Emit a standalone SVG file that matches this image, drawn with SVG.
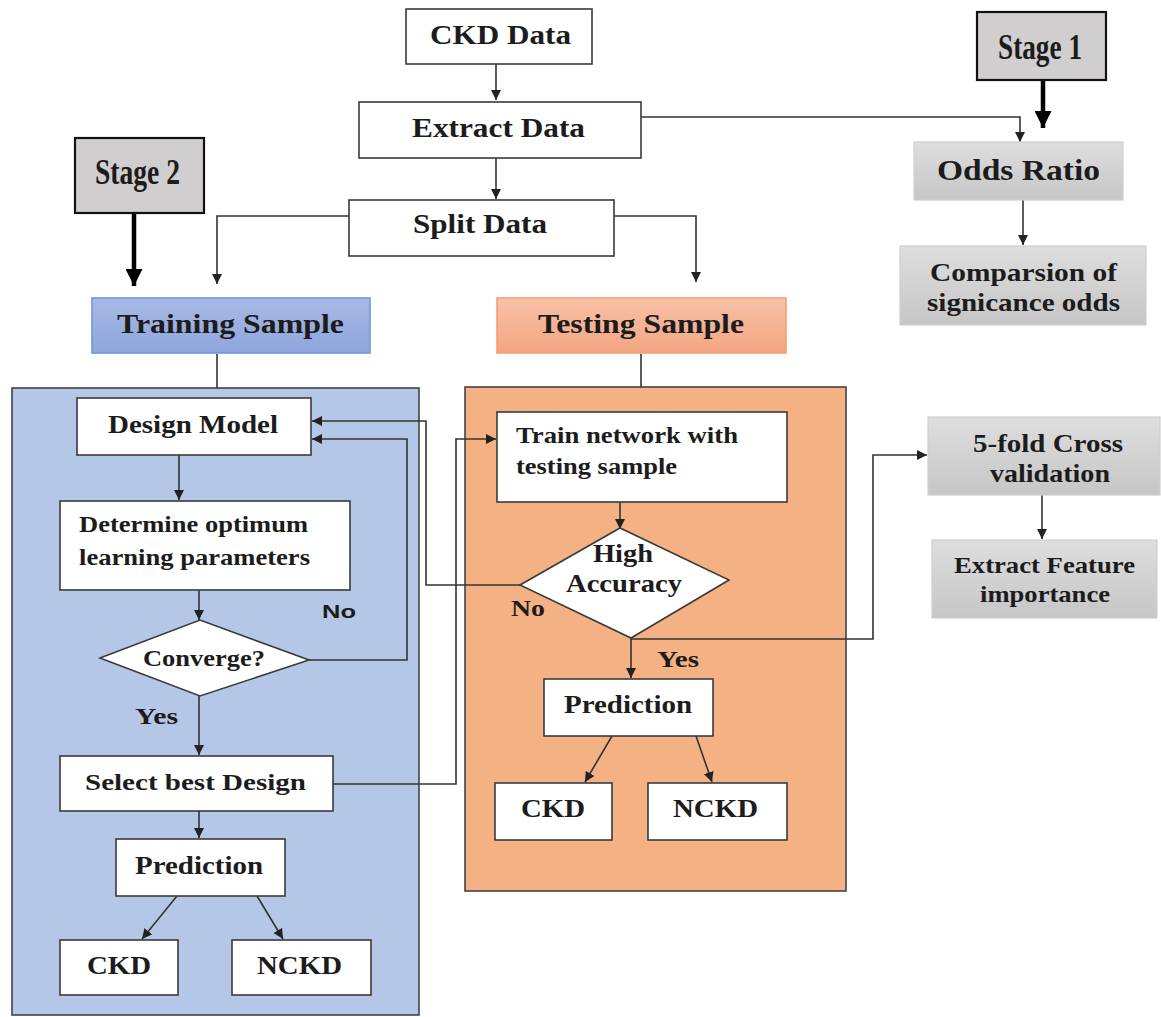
<svg xmlns="http://www.w3.org/2000/svg" width="1161" height="1017" viewBox="0 0 1161 1017">
<defs>
<style>
.t{font-family:"Liberation Serif","Times New Roman",serif;font-weight:bold;fill:#1c1c1c}
.s{font-family:"Liberation Sans",Arial,sans-serif;font-weight:bold;fill:#1c1c1c}
.w{fill:#fff;stroke:#3a3a3a;stroke-width:1.6}
.g{fill:url(#gray);stroke:#cfcfcf;stroke-width:1.2}
.st{fill:#d0cece;stroke:#111;stroke-width:2.2}
.c{fill:none;stroke:#333;stroke-width:1.6}
.ck{fill:none;stroke:#000;stroke-width:4.5}
</style>
<linearGradient id="gray" x1="0" y1="0" x2="0" y2="1"><stop offset="0" stop-color="#dedede"/><stop offset="1" stop-color="#c6c6c6"/></linearGradient>
<linearGradient id="blue" x1="0" y1="0" x2="0" y2="1"><stop offset="0" stop-color="#a8b9e5"/><stop offset="1" stop-color="#8ea6dc"/></linearGradient>
<linearGradient id="orange" x1="0" y1="0" x2="0" y2="1"><stop offset="0" stop-color="#f8c1a7"/><stop offset="1" stop-color="#f3a582"/></linearGradient>
<marker id="a" viewBox="0 0 10 10" refX="10" refY="5" markerWidth="10" markerHeight="11" markerUnits="userSpaceOnUse" orient="auto"><path d="M0,0 L10,5 L0,10 z" fill="#222"/></marker>
<marker id="ab" viewBox="0 0 10 10" refX="10" refY="5" markerWidth="22" markerHeight="17" markerUnits="userSpaceOnUse" orient="auto"><path d="M0,0 L10,5 L0,10 z" fill="#000"/></marker>
</defs>
<rect width="1161" height="1017" fill="#fff"/>

<g id="panel-training"><rect x="12" y="388" width="407" height="627" fill="#b4c7e7" stroke="#444" stroke-width="1.6"/></g>
<g id="panel-testing"><rect x="465" y="387" width="381" height="504" fill="#f4b183" stroke="#444" stroke-width="1.6"/></g>

<g id="connectors">
<line class="c" x1="496" y1="64" x2="496" y2="100" marker-end="url(#a)"/>
<line class="c" x1="496" y1="158" x2="496" y2="199" marker-end="url(#a)"/>
<path class="c" d="M349,216 H217 V284" marker-end="url(#a)"/>
<path class="c" d="M614,216 H696 V282" marker-end="url(#a)"/>
<path class="c" d="M641,117 H1020 V142" marker-end="url(#a)"/>
<line class="c" x1="1023" y1="200" x2="1023" y2="245" marker-end="url(#a)"/>
<line class="ck" x1="1043" y1="80" x2="1043" y2="128" marker-end="url(#ab)"/>
<line class="ck" x1="134" y1="213" x2="134" y2="286" marker-end="url(#ab)"/>
<line class="c" x1="217" y1="354" x2="217" y2="388"/>
<line class="c" x1="641" y1="354" x2="641" y2="387"/>
<line class="c" x1="179" y1="455" x2="179" y2="500" marker-end="url(#a)"/>
<line class="c" x1="199" y1="590" x2="199" y2="620" marker-end="url(#a)"/>
<path class="c" d="M309,660 H407 V439 H312" marker-end="url(#a)"/>
<path class="c" d="M520,585 H426 V421 H312" marker-end="url(#a)"/>
<line class="c" x1="199" y1="696" x2="199" y2="755" marker-end="url(#a)"/>
<path class="c" d="M333,784 H456 V439 H496" marker-end="url(#a)"/>
<line class="c" x1="199" y1="811" x2="199" y2="838" marker-end="url(#a)"/>
<line class="c" x1="177" y1="896" x2="142" y2="939" marker-end="url(#a)"/>
<line class="c" x1="257" y1="896" x2="283" y2="939" marker-end="url(#a)"/>
<line class="c" x1="620" y1="502" x2="620" y2="529" marker-end="url(#a)"/>
<line class="c" x1="631" y1="638" x2="631" y2="678" marker-end="url(#a)"/>
<path class="c" d="M631,639 H873 V455 H927" marker-end="url(#a)"/>
<line class="c" x1="612" y1="736" x2="585" y2="782" marker-end="url(#a)"/>
<line class="c" x1="696" y1="736" x2="712" y2="782" marker-end="url(#a)"/>
<line class="c" x1="1042" y1="495" x2="1042" y2="539" marker-end="url(#a)"/>
</g>

<g id="ckd-data"><rect class="w" x="406" y="9" width="186" height="55"/><text class="t" x="430" y="44" font-size="27" textLength="141" lengthAdjust="spacingAndGlyphs">CKD Data</text></g>
<g id="extract-data"><rect class="w" x="359" y="102" width="282" height="56"/><text class="t" x="412" y="137" font-size="27" textLength="173" lengthAdjust="spacingAndGlyphs">Extract Data</text></g>
<g id="split-data"><rect class="w" x="349" y="200" width="265" height="56"/><text class="t" x="413" y="233" font-size="27" textLength="134" lengthAdjust="spacingAndGlyphs">Split Data</text></g>
<g id="stage-1"><rect class="st" x="977" y="12" width="129" height="68"/><text class="t" x="998" y="59" font-size="35" textLength="84" lengthAdjust="spacingAndGlyphs">Stage 1</text></g>
<g id="stage-2"><rect class="st" x="75" y="138" width="129" height="75"/><text class="t" x="95" y="184" font-size="35" textLength="85" lengthAdjust="spacingAndGlyphs">Stage 2</text></g>
<g id="odds-ratio"><rect class="g" x="914" y="142" width="209" height="58"/><text class="t" x="937" y="180" font-size="29" textLength="163" lengthAdjust="spacingAndGlyphs">Odds Ratio</text></g>
<g id="comparsion"><rect class="g" x="900" y="246" width="246" height="79"/><text class="t" x="930" y="281" font-size="25" textLength="187" lengthAdjust="spacingAndGlyphs">Comparsion of</text><text class="t" x="927" y="311" font-size="25" textLength="193" lengthAdjust="spacingAndGlyphs">signicance odds</text></g>
<g id="training-sample"><rect x="92" y="298" width="278" height="55" fill="url(#blue)" stroke="#6f96e0" stroke-width="1.6"/><text class="t" x="117" y="333" font-size="28" textLength="227" lengthAdjust="spacingAndGlyphs">Training Sample</text></g>
<g id="testing-sample"><rect x="497" y="298" width="289" height="55" fill="url(#orange)" stroke="#f3a072" stroke-width="1.6"/><text class="t" x="538" y="333" font-size="28" textLength="206" lengthAdjust="spacingAndGlyphs">Testing Sample</text></g>

<g id="design-model"><rect class="w" x="77" y="398" width="234" height="57"/><text class="t" x="108" y="433" font-size="25" textLength="170" lengthAdjust="spacingAndGlyphs">Design Model</text></g>
<g id="determine"><rect class="w" x="60" y="501" width="290" height="89"/><text class="t" x="79" y="532" font-size="24" textLength="229" lengthAdjust="spacingAndGlyphs">Determine optimum</text><text class="t" x="79" y="565" font-size="24" textLength="231" lengthAdjust="spacingAndGlyphs">learning parameters</text></g>
<g id="converge"><polygon class="w" points="100,658 200,620 309,660 200,696"/><text class="t" x="143" y="666" font-size="24" textLength="122" lengthAdjust="spacingAndGlyphs">Converge?</text></g>
<g id="label-no-1"><text class="s" x="322" y="618" font-size="19" textLength="34" lengthAdjust="spacingAndGlyphs">No</text></g>
<g id="label-yes-1"><text class="t" x="135" y="724" font-size="24" textLength="43" lengthAdjust="spacingAndGlyphs">Yes</text></g>
<g id="select-best"><rect class="w" x="60" y="756" width="273" height="55"/><text class="t" x="85" y="790" font-size="24" textLength="221" lengthAdjust="spacingAndGlyphs">Select best Design</text></g>
<g id="prediction-1"><rect class="w" x="116" y="839" width="169" height="57"/><text class="t" x="135" y="874" font-size="25" textLength="128" lengthAdjust="spacingAndGlyphs">Prediction</text></g>
<g id="ckd-1"><rect class="w" x="60" y="940" width="118" height="55"/><text class="t" x="87" y="974" font-size="25" textLength="64" lengthAdjust="spacingAndGlyphs">CKD</text></g>
<g id="nckd-1"><rect class="w" x="232" y="940" width="139" height="55"/><text class="t" x="257" y="974" font-size="25" textLength="85" lengthAdjust="spacingAndGlyphs">NCKD</text></g>

<g id="train-network"><rect class="w" x="497" y="412" width="290" height="90"/><text class="t" x="516" y="443" font-size="24" textLength="222" lengthAdjust="spacingAndGlyphs">Train network with</text><text class="t" x="516" y="474" font-size="24" textLength="161" lengthAdjust="spacingAndGlyphs">testing sample</text></g>
<g id="high-accuracy"><polygon class="w" points="520,585 620,528 729,580 631,638"/><text class="t" x="593" y="562" font-size="25" textLength="60" lengthAdjust="spacingAndGlyphs">High</text><text class="t" x="566" y="592" font-size="25" textLength="116" lengthAdjust="spacingAndGlyphs">Accuracy</text></g>
<g id="label-no-2"><text class="t" x="511" y="616" font-size="24" textLength="34" lengthAdjust="spacingAndGlyphs">No</text></g>
<g id="label-yes-2"><text class="t" x="657" y="667" font-size="24" textLength="42" lengthAdjust="spacingAndGlyphs">Yes</text></g>
<g id="prediction-2"><rect class="w" x="544" y="679" width="169" height="57"/><text class="t" x="564" y="713" font-size="25" textLength="128" lengthAdjust="spacingAndGlyphs">Prediction</text></g>
<g id="ckd-2"><rect class="w" x="495" y="783" width="117" height="57"/><text class="t" x="521" y="817" font-size="25" textLength="64" lengthAdjust="spacingAndGlyphs">CKD</text></g>
<g id="nckd-2"><rect class="w" x="648" y="783" width="139" height="57"/><text class="t" x="673" y="817" font-size="25" textLength="85" lengthAdjust="spacingAndGlyphs">NCKD</text></g>

<g id="cross-validation"><rect class="g" x="928" y="417" width="232" height="78"/><text class="t" x="973" y="452" font-size="25" textLength="150" lengthAdjust="spacingAndGlyphs">5-fold Cross</text><text class="t" x="990" y="482" font-size="25" textLength="120" lengthAdjust="spacingAndGlyphs">validation</text></g>
<g id="extract-feature"><rect class="g" x="932" y="540" width="225" height="78"/><text class="t" x="954" y="573" font-size="24" textLength="181" lengthAdjust="spacingAndGlyphs">Extract Feature</text><text class="t" x="980" y="602" font-size="24" textLength="130" lengthAdjust="spacingAndGlyphs">importance</text></g>
</svg>
